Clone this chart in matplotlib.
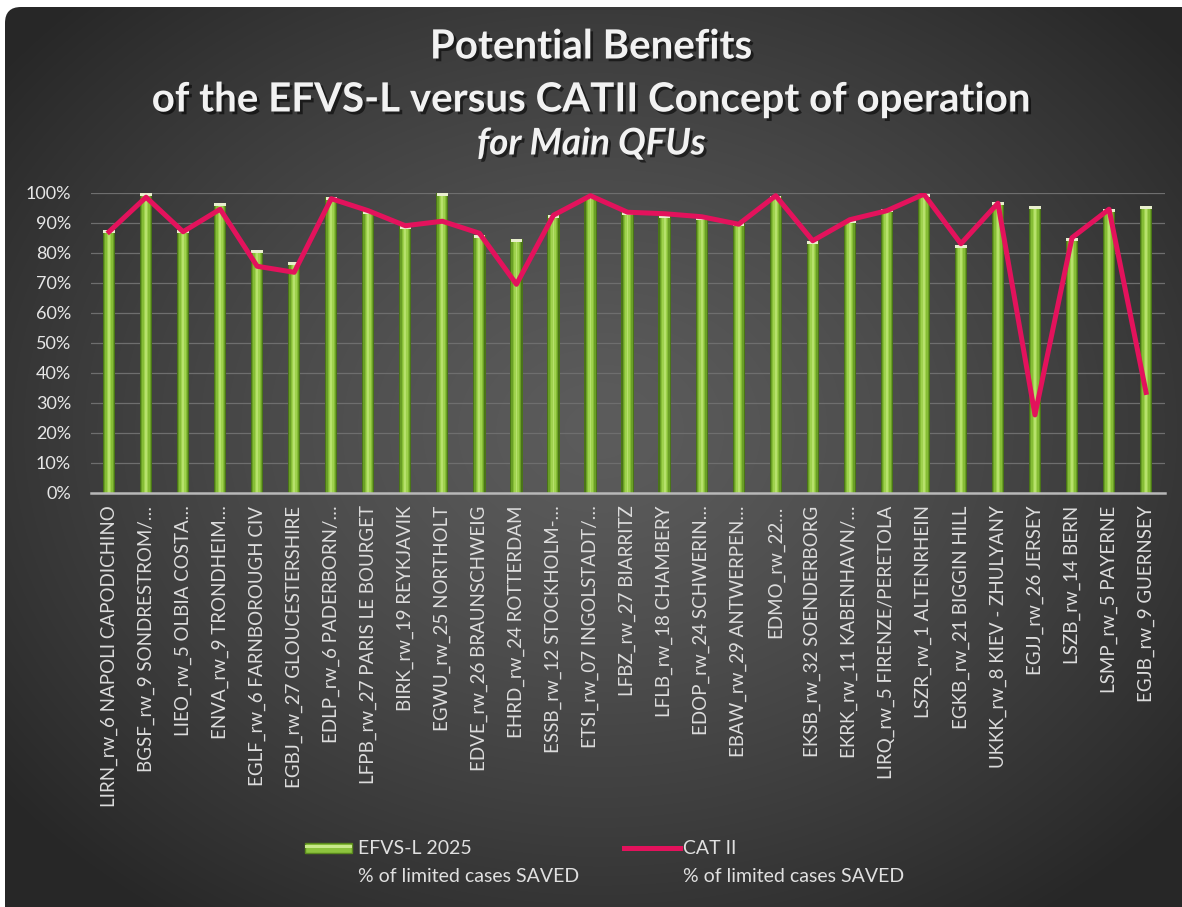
import numpy as np
import matplotlib
matplotlib.use("Agg")
import matplotlib.pyplot as plt
from matplotlib.patches import FancyBboxPatch, Rectangle
from matplotlib.lines import Line2D
import matplotlib.patheffects as pe

plt.rcParams['font.family'] = ['Lato', 'DejaVu Sans']

# ---------------- data ----------------
categories = [
    "LIRN_rw_6 NAPOLI CAPODICHINO", "BGSF_rw_9 SONDRESTROM/\u2026", "LIEO_rw_5 OLBIA COSTA\u2026",
    "ENVA_rw_9 TRONDHEIM\u2026", "EGLF_rw_6 FARNBOROUGH CIV", "EGBJ_rw_27 GLOUCESTERSHIRE",
    "EDLP_rw_6 PADERBORN/\u2026", "LFPB_rw_27 PARIS LE BOURGET", "BIRK_rw_19 REYKJAVIK",
    "EGWU_rw_25 NORTHOLT", "EDVE_rw_26 BRAUNSCHWEIG", "EHRD_rw_24 ROTTERDAM",
    "ESSB_rw_12 STOCKHOLM-\u2026", "ETSI_rw_07 INGOLSTADT/\u2026", "LFBZ_rw_27 BIARRITZ",
    "LFLB_rw_18 CHAMBERY", "EDOP_rw_24 SCHWERIN\u2026", "EBAW_rw_29 ANTWERPEN\u2026",
    "EDMO_rw_22\u2026", "EKSB_rw_32 SOENDERBORG", "EKRK_rw_11 KABENHAVN/\u2026",
    "LIRQ_rw_5 FIRENZE/PERETOLA", "LSZR_rw_1 ALTENRHEIN", "EGKB_rw_21 BIGGIN HILL",
    "UKKK_rw_8 KIEV - ZHULYANY", "EGJJ_rw_26 JERSEY", "LSZB_rw_14 BERN",
    "LSMP_rw_5 PAYERNE", "EGJB_rw_9 GUERNSEY",
]
efvs_l_2025 = [87.5, 100, 87.5, 96.5, 81, 77, 98.5, 94, 89, 100, 86,
               84.5, 92.5, 99, 93.5, 92.5, 92, 90, 99, 84, 91,
               94.5, 99.5, 82.5, 97, 95.5, 85, 94.5, 95.5]
cat_ii = [87, 98.5, 87, 94.5, 75.5, 73.5, 98, 94, 89, 90.5, 86.5,
          69.5, 92.5, 99, 93.5, 93, 92, 89.5, 99, 84, 91,
          94, 99.5, 83, 96.5, 26, 85, 94.5, 33.5]
yticks = [0, 10, 20, 30, 40, 50, 60, 70, 80, 90, 100]
ytick_labels = [f"{t}%" for t in yticks]

title_1 = "Potential Benefits"
title_2 = "of the EFVS-L versus CATII Concept of operation"
title_3 = "for Main QFUs"
legend_labels = ["EFVS-L 2025", "CAT II"]
legend_sub = "% of limited cases SAVED"

# ---------------- figure ----------------
W, H = 1182, 907
fig = plt.figure(figsize=(W / 100, H / 100), dpi=100)
fig.patch.set_facecolor("white")

# background panel with radial gradient
bg = fig.add_axes([0, 0, 1, 1], zorder=-10)
bg.set_xlim(0, W)
bg.set_ylim(H, 0)
bg.axis("off")
yy, xx = np.mgrid[0:H, 0:W]
r = np.sqrt(((xx - 600) / 760.0) ** 2 + ((yy - 430) / 600.0) ** 2)
t = np.clip(r, 0, 1) ** 1.3
c0 = np.array([0x5c, 0x5c, 0x5c]) / 255.0
c1 = np.array([0x27, 0x27, 0x27]) / 255.0
img = c0[None, None, :] * (1 - t[..., None]) + c1[None, None, :] * t[..., None]
im = bg.imshow(img, extent=(0, W, H, 0), aspect="auto", interpolation="bilinear")
panel = FancyBboxPatch((5, 7), W - 5 + 20, H - 7 + 20,
                       boxstyle="round,pad=0,rounding_size=16",
                       transform=bg.transData, facecolor="none", edgecolor="none")
bg.add_patch(panel)
im.set_clip_path(panel)

# titles
shadow = [pe.withSimplePatchShadow(offset=(2, -2), shadow_rgbFace="black", alpha=0.55)]
fig.text(0.5, 1 - 47 / H, title_1, ha="center", va="center", color="#f2f2f2",
         fontsize=29, fontweight="bold", path_effects=shadow)
fig.text(0.5, 1 - 100 / H, title_2, ha="center", va="center", color="#f2f2f2",
         fontsize=29, fontweight="bold", path_effects=shadow)
fig.text(0.5, 1 - 144 / H, title_3, ha="center", va="center", color="#f2f2f2",
         fontsize=26.5, fontweight="bold", fontstyle="italic", path_effects=shadow)

# main axes
left, right, top, bottom = 90.5, 1164.6, 192.7, 493.0
ax = fig.add_axes([left / W, 1 - bottom / H, (right - left) / W, (bottom - top) / H])
ax.set_facecolor("none")
x = np.arange(len(categories))
ax.set_xlim(-0.5, len(categories) - 0.5)
ax.set_ylim(0, 100)

# cylinder-like bars
layers = [(0.33, "#4a7418"), (0.27, "#6a9f26"), (0.20, "#86bd36"),
          (0.13, "#9fd24e"), (0.05, "#b7e16c")]
for i, (w, c) in enumerate(layers):
    ax.bar(x, efvs_l_2025, width=w, color=c, zorder=2 + i * 0.01, linewidth=0,
           label=legend_labels[0] if i == 0 else None)
cap = 1.0
ax.bar(x, [cap] * len(x), bottom=np.array(efvs_l_2025) - cap, width=0.31,
       color="#e9efcf", zorder=2.2, linewidth=0)

ax.plot(x, cat_ii, color="#e3125c", lw=3.6, zorder=4, solid_joinstyle="round",
        label=legend_labels[1])

ax.set_yticks(yticks)
ax.set_yticklabels(ytick_labels)
ax.grid(axis="y", color="#6e6e6e", lw=0.9, zorder=0)
ax.set_axisbelow(True)
for s in ["top", "right", "left"]:
    ax.spines[s].set_visible(False)
ax.spines["bottom"].set_color("#b8b8b8")
ax.spines["bottom"].set_linewidth(1.8)
ax.spines["bottom"].set_zorder(5)
ax.tick_params(axis="y", length=0, pad=14, labelsize=13, labelcolor="#e6e6e6")
ax.tick_params(axis="x", length=0, pad=9, labelsize=13.5, labelcolor="#dcdcdc")
ax.set_xticks(x)
ax.set_xticklabels(categories, rotation=90, ha="center", va="top")

# legend (manual, figure pixel coords)
lg = fig.add_axes([0, 0, 1, 1], zorder=5)
lg.set_xlim(0, W)
lg.set_ylim(H, 0)
lg.axis("off")
lg.add_patch(Rectangle((305, 843), 47, 10, facecolor="#8dc43e", edgecolor="#5a8a1e", lw=1))
lg.add_patch(Rectangle((305, 845), 47, 3, facecolor="#c8ea8a", edgecolor="none"))
lg.add_line(Line2D([624, 680], [848, 848], color="#e3125c", lw=3.6))
for xt, lab in [(358, legend_labels[0]), (683, legend_labels[1])]:
    lg.text(xt, 848, lab, ha="left", va="center", color="#e0e0e0", fontsize=14)
    lg.text(xt, 876, legend_sub, ha="left", va="center", color="#e0e0e0", fontsize=14)

fig.savefig("out.png", dpi=100, facecolor=fig.get_facecolor())
